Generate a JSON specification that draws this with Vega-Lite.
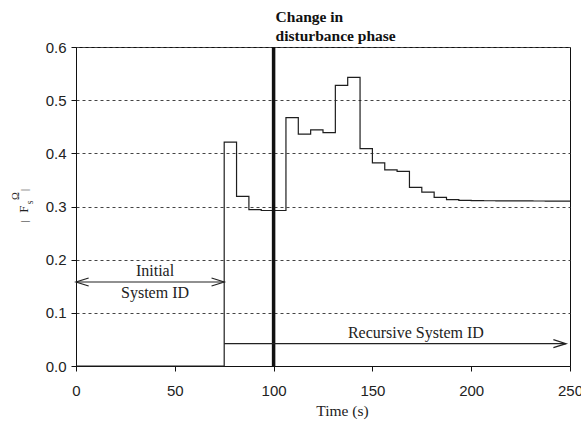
{
  "$schema": "https://vega.github.io/schema/vega-lite/v6.json",
  "width": 494,
  "height": 319,
  "autosize": "none",
  "padding": {"left": 76, "top": 47, "right": 11, "bottom": 59},
  "background": "white",
  "config": {
    "view": {"stroke": "#111", "strokeWidth": 1},
    "axis": {
      "labelFont": "Liberation Sans",
      "labelFontSize": 15,
      "labelColor": "#222",
      "domainColor": "#111",
      "tickColor": "#111",
      "tickSize": 5,
      "titleFont": "Liberation Serif",
      "titleFontSize": 15.5,
      "titleFontWeight": "normal",
      "titleColor": "#222"
    }
  },
  "datasets": {
    "response": [
      {"t": 0, "F": 0},
      {"t": 75, "F": 0.421},
      {"t": 81.25, "F": 0.319},
      {"t": 87.5, "F": 0.294},
      {"t": 93.75, "F": 0.2925},
      {"t": 100, "F": 0.2925},
      {"t": 106.25, "F": 0.467},
      {"t": 112.5, "F": 0.436},
      {"t": 118.75, "F": 0.444},
      {"t": 125, "F": 0.439},
      {"t": 131.25, "F": 0.528},
      {"t": 137.5, "F": 0.543},
      {"t": 143.75, "F": 0.409},
      {"t": 150, "F": 0.382},
      {"t": 156.25, "F": 0.369},
      {"t": 162.5, "F": 0.366},
      {"t": 168.75, "F": 0.336},
      {"t": 175, "F": 0.327},
      {"t": 181.25, "F": 0.317},
      {"t": 187.5, "F": 0.313},
      {"t": 193.75, "F": 0.3115},
      {"t": 200, "F": 0.311},
      {"t": 206.25, "F": 0.3108},
      {"t": 212.5, "F": 0.3106},
      {"t": 218.75, "F": 0.3105},
      {"t": 225, "F": 0.3104},
      {"t": 231.25, "F": 0.3103},
      {"t": 237.5, "F": 0.3102},
      {"t": 243.75, "F": 0.3101},
      {"t": 250, "F": 0.3101}
    ],
    "phase": [{"t": 100}],
    "spans": [
      {"from": 0, "to": 75, "level": 0.158},
      {"from": 75, "to": 248, "level": 0.042}
    ],
    "heads": [
      {"t": 0, "level": 0.158, "dir": "left"},
      {"t": 75, "level": 0.158, "dir": "right"},
      {"t": 248, "level": 0.042, "dir": "right"}
    ],
    "notes": [
      {"label": "Initial", "t": 40, "level": 0.169},
      {"label": "System ID", "t": 40, "level": 0.128},
      {"label": "Recursive System ID", "t": 172, "level": 0.052}
    ],
    "heading": [
      {"label": "Change in", "t": 101, "level": 0.6475},
      {"label": "disturbance phase", "t": 101, "level": 0.612}
    ],
    "ylabel": [{"t": -27, "level": 0.3}]
  },
  "layer": [
    {
      "data": {"name": "response"},
      "mark": {"type": "line", "interpolate": "step-after", "color": "#1e1e1e", "strokeWidth": 1.2},
      "encoding": {
        "x": {
          "field": "t",
          "type": "quantitative",
          "scale": {"domain": [0, 250], "nice": false},
          "axis": {
            "values": [0, 50, 100, 150, 200, 250],
            "labelFlush": false,
            "labelOverlap": false,
            "labelPadding": 12,
            "grid": false,
            "title": "Time (s)",
            "titleBaseline": "middle",
            "titleX": 266,
            "titleY": 44
          }
        },
        "y": {
          "field": "F",
          "type": "quantitative",
          "scale": {"domain": [0, 0.6], "nice": false},
          "axis": {
            "values": [0, 0.1, 0.2, 0.3, 0.4, 0.5, 0.6],
            "format": ".1f",
            "labelPadding": 5,
            "grid": true,
            "gridColor": "#444",
            "gridDash": [3, 3],
            "gridWidth": 1,
            "title": null
          }
        }
      }
    },
    {
      "data": {"name": "phase"},
      "mark": {"type": "rule", "color": "#111", "strokeWidth": 3.5},
      "encoding": {"x": {"field": "t", "type": "quantitative"}}
    },
    {
      "data": {"name": "spans"},
      "mark": {"type": "rule", "color": "#222", "strokeWidth": 1.2},
      "encoding": {
        "x": {"field": "from", "type": "quantitative"},
        "x2": {"field": "to"},
        "y": {"field": "level", "type": "quantitative"}
      }
    },
    {
      "data": {"name": "heads"},
      "mark": {"type": "point", "filled": false, "stroke": "#222", "strokeWidth": 1.2, "size": 160, "opacity": 1},
      "encoding": {
        "x": {"field": "t", "type": "quantitative"},
        "y": {"field": "level", "type": "quantitative"},
        "shape": {
          "field": "dir",
          "type": "nominal",
          "scale": {
            "domain": ["left", "right"],
            "range": ["M 2 -0.63 L 0 0 L 2 0.63", "M -2 -0.63 L 0 0 L -2 0.63"]
          },
          "legend": null
        }
      }
    },
    {
      "data": {"name": "notes"},
      "mark": {"type": "text", "font": "Liberation Serif", "fontSize": 16, "align": "center", "baseline": "alphabetic", "color": "#222"},
      "encoding": {
        "x": {"field": "t", "type": "quantitative"},
        "y": {"field": "level", "type": "quantitative"},
        "text": {"field": "label"}
      }
    },
    {
      "data": {"name": "heading"},
      "mark": {"type": "text", "font": "Liberation Serif", "fontSize": 15.5, "fontWeight": "bold", "align": "left", "baseline": "alphabetic", "color": "#111"},
      "encoding": {
        "x": {"field": "t", "type": "quantitative"},
        "y": {"field": "level", "type": "quantitative"},
        "text": {"field": "label"}
      }
    },
    {
      "data": {"name": "ylabel"},
      "mark": {"type": "text", "font": "Liberation Serif", "fontSize": 10.5, "angle": 270, "align": "center", "baseline": "alphabetic", "dx": -14.7, "dy": 5.6, "color": "#222"},
      "encoding": {
        "x": {"field": "t", "type": "quantitative"},
        "y": {"field": "level", "type": "quantitative"},
        "text": {"value": "|"}
      }
    },
    {
      "data": {"name": "ylabel"},
      "mark": {"type": "text", "font": "Liberation Serif", "fontSize": 13, "angle": 270, "align": "center", "baseline": "alphabetic", "dx": -2.6, "dy": 4.9, "color": "#222"},
      "encoding": {
        "x": {"field": "t", "type": "quantitative"},
        "y": {"field": "level", "type": "quantitative"},
        "text": {"value": "F"}
      }
    },
    {
      "data": {"name": "ylabel"},
      "mark": {"type": "text", "font": "Liberation Serif", "fontSize": 9.5, "angle": 270, "align": "center", "baseline": "alphabetic", "dx": 4, "dy": 10, "color": "#222"},
      "encoding": {
        "x": {"field": "t", "type": "quantitative"},
        "y": {"field": "level", "type": "quantitative"},
        "text": {"value": "s"}
      }
    },
    {
      "data": {"name": "ylabel"},
      "mark": {"type": "text", "font": "Liberation Serif", "fontSize": 10.5, "angle": 270, "align": "center", "baseline": "alphabetic", "dx": 10.5, "dy": -4.1, "color": "#222"},
      "encoding": {
        "x": {"field": "t", "type": "quantitative"},
        "y": {"field": "level", "type": "quantitative"},
        "text": {"value": "Ω"}
      }
    },
    {
      "data": {"name": "ylabel"},
      "mark": {"type": "text", "font": "Liberation Serif", "fontSize": 10.5, "angle": 270, "align": "center", "baseline": "alphabetic", "dx": 16.5, "dy": 5.6, "color": "#222"},
      "encoding": {
        "x": {"field": "t", "type": "quantitative"},
        "y": {"field": "level", "type": "quantitative"},
        "text": {"value": "|"}
      }
    }
  ]
}
